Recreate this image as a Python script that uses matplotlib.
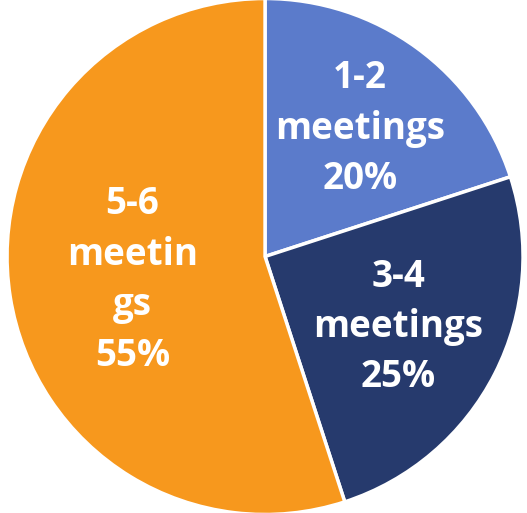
import matplotlib
matplotlib.use("Agg")
import matplotlib.pyplot as plt
import numpy as np

categories = ["1-2\nmeetings", "3-4\nmeetings", "5-6\nmeetin\ngs"]
values = [20, 25, 55]
colors = ["#5B7BCB", "#263A6D", "#F7981D"]
label_dist = [0.625, 0.58, 0.52]

plt.rcParams['font.family'] = ['Open Sans', 'DejaVu Sans']

fig = plt.figure(figsize=(5.27, 5.13), dpi=100)
ax = fig.add_axes([0, 0, 1, 1])
wedges, _ = ax.pie(values, colors=colors, startangle=90, counterclock=False,
                   radius=1.0, wedgeprops=dict(edgecolor="white", linewidth=2.5))
for w, cat, v, d in zip(wedges, categories, values, label_dist):
    mid = np.deg2rad((w.theta1 + w.theta2) / 2)
    ax.text(d * np.cos(mid), d * np.sin(mid) - 0.01, f"{cat}\n{v}%", ha="center", va="center",
            color="white", fontsize=26.5, fontweight="bold", linespacing=1.43)
ax.set_aspect("equal")
s = 256.5 / 258
ax.set_xlim(-263.5 / 258 - 0.006, 263.5 / 258 - 0.006)
ax.set_ylim(-s, s)
ax.axis("off")
fig.savefig("out.png", dpi=100)
